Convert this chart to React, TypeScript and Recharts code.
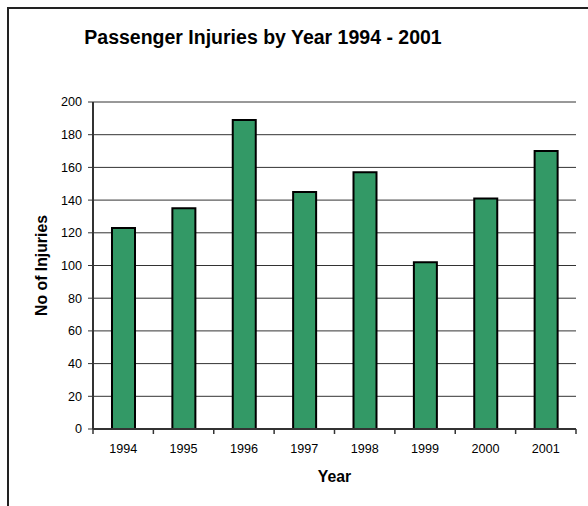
import { BarChart, Bar, XAxis, YAxis, CartesianGrid } from 'recharts';

const years = ['1994', '1995', '1996', '1997', '1998', '1999', '2000', '2001'];
const injuries = [123, 135, 189, 145, 157, 102, 141, 170];
const yTicks = [0, 20, 40, 60, 80, 100, 120, 140, 160, 180, 200];

const W = 580;
const H = 498;
const M = { top: 94, right: 12, bottom: 0, left: 0 };
const Y_AXIS_W = 85;
const X_AXIS_H = 77;
const FONT = "'Liberation Sans', Arial, sans-serif";

const data = years.map((y, i) => ({ year: y, value: injuries[i] }));
const band = (W - M.left - M.right - Y_AXIS_W) / years.length;

// x ticks sit on the category boundaries, label in the middle
function YearTick(props: any) {
  const { x, y, payload, index } = props;
  const left = x - band / 2;
  return (
    <g>
      <line x1={left} x2={left} y1={y} y2={y + 5} stroke="#333" strokeWidth={1.5} />
      {index === years.length - 1 && (
        <line x1={left + band} x2={left + band} y1={y} y2={y + 5} stroke="#333" strokeWidth={1.5} />
      )}
      <text x={x} y={y + 23.5} textAnchor="middle" fill="#000" fontSize={12.6} fontFamily={FONT}>
        {payload.value}
      </text>
    </g>
  );
}

export default function App() {
  return (
    <div style={{ position: 'relative', width: 588, height: 506, background: '#fff', fontFamily: FONT }}>
      <style>{'body{margin:0;overflow:hidden}'}</style>
      <div
        style={{
          position: 'absolute', left: 7, top: 7, width: W, height: H + 10,
          borderTop: '2px solid #222', borderLeft: '2px solid #222',
        }}
      />
      <div
        style={{
          position: 'absolute', left: 0, width: 526, top: 26, textAlign: 'center',
          fontWeight: 'bold', fontSize: 19.5, color: '#000',
        }}
      >
        Passenger Injuries by Year 1994 - 2001
      </div>
      <div style={{ position: 'absolute', left: 8, top: 8 }}>
        <BarChart width={W} height={H} data={data} margin={M}>
          <CartesianGrid vertical={false} horizontal stroke="#333" strokeWidth={1} />
          <XAxis
            dataKey="year"
            height={X_AXIS_H}
            axisLine={{ stroke: '#333', strokeWidth: 2 }}
            tickLine={false}
            tickSize={0}
            tickMargin={0}
            tick={<YearTick />}
            interval={0}
            label={{ value: 'Year', position: 'insideBottom', offset: 24, fontWeight: 'bold', fontSize: 15.8, fill: '#000', fontFamily: FONT }}
          />
          <XAxis xAxisId="top" dataKey="year" orientation="top" height={0} tick={false} tickLine={false}
            axisLine={{ stroke: '#8c8c8c', strokeWidth: 2 }} />
          <YAxis
            width={Y_AXIS_W}
            domain={[0, 200]}
            ticks={yTicks}
            interval={0}
            axisLine={{ stroke: '#333', strokeWidth: 2 }}
            tickLine={{ stroke: '#333' }}
            tickSize={5}
            tickMargin={6}
            tick={{ fill: '#000', fontSize: 12.6, fontFamily: FONT }}
            label={{ value: 'No of Injuries', angle: -90, position: 'center', dx: -9, fontWeight: 'bold', fontSize: 15.8, fill: '#000', fontFamily: FONT }}
          />
          <YAxis yAxisId="right" orientation="right" width={0} domain={[0, 200]} tick={false} tickLine={false}
            axisLine={{ stroke: '#8c8c8c', strokeWidth: 2 }} />
          <Bar dataKey="value" fill="#339966" stroke="#000" strokeWidth={2} barSize={23} isAnimationActive={false} />
        </BarChart>
      </div>
    </div>
  );
}
